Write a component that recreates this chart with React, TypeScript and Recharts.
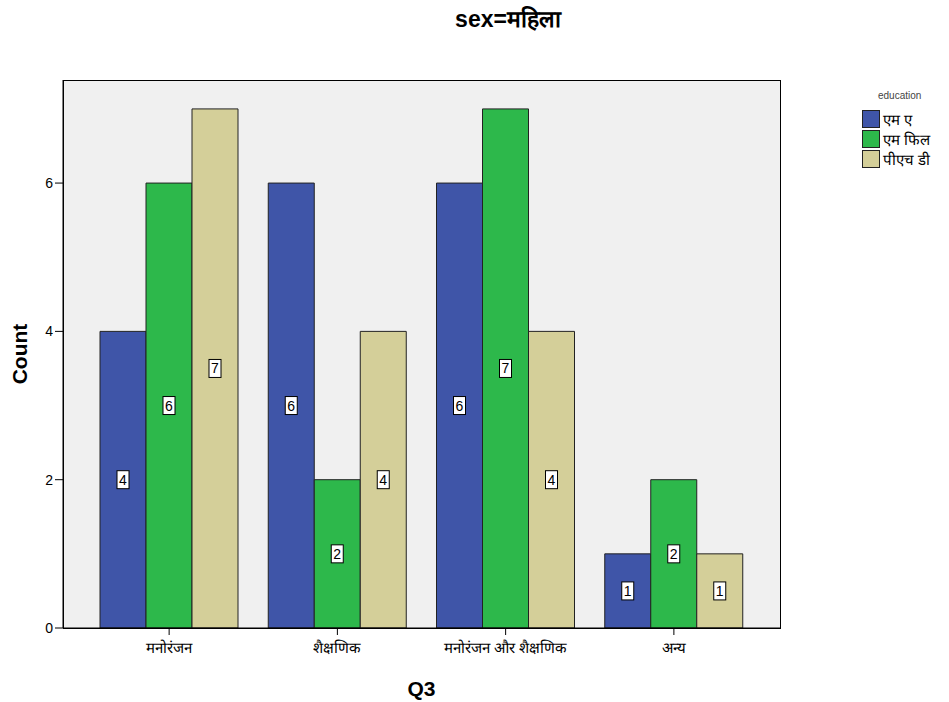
import React from 'react';
import { BarChart, Bar, XAxis, YAxis, CartesianGrid, LabelList } from 'recharts';

const categories = ['मनोरंजन', 'शैक्षणिक', 'मनोरंजन और शैक्षणिक', 'अन्य'];
const seriesNames = ['एम ए', 'एम फिल', 'पीएच डी'];
const maValues = [4, 6, 6, 1];
const mphilValues = [6, 2, 7, 2];
const phdValues = [7, 4, 4, 1];
const yTicks = [0, 2, 4, 6];

const colors = ['#3f55a8', '#2db84b', '#d4cf99'];
const FONT = '"Liberation Sans", Arial, sans-serif';

const data = categories.map((name, i) => ({
  name,
  ma: maValues[i],
  mphil: mphilValues[i],
  phd: phdValues[i],
}));

const keys = ['ma', 'mphil', 'phd'];

const BoxLabel = (props: any) => {
  const { x, y, width, height, value } = props;
  const cx = x + width / 2;
  const cy = y + height / 2;
  return (
    <g>
      <rect x={cx - 6} y={cy - 9} width={12} height={18} fill="#fff" stroke="#000" strokeWidth={1} />
      <text x={cx} y={cy + 5} textAnchor="middle" fontSize={14} fontFamily={FONT} fill="#000">{value}</text>
    </g>
  );
};

export default function App() {
  React.useEffect(() => {
    document.body.style.margin = '0';
  }, []);

  return (
    <div style={{ position: 'relative', width: 949, height: 702, background: '#fff', fontFamily: FONT }}>
      <div style={{ position: 'absolute', left: 0, width: 1016, top: 2, textAlign: 'center', fontSize: 23, fontWeight: 'bold' }}>
        sex=महिला
      </div>
      <BarChart
        width={949}
        height={702}
        data={data}
        margin={{ top: 80, right: 169, left: 0, bottom: 0 }}
        barGap={0}
        barCategoryGap={15}
      >
        <CartesianGrid horizontal={false} vertical={false} fill="#f0f0f0" />
        <XAxis
          dataKey="name"
          height={74}
          padding={{ left: 22, right: 22 }}
          axisLine={{ stroke: '#000' }}
          tickLine={{ stroke: '#000' }}
          tickSize={7}
          tick={{ fontSize: 15, fill: '#000', fontFamily: FONT, dy: 5 }}
          interval={0}
          label={{ value: 'Q3', position: 'insideBottom', offset: 6, style: { fontSize: 21, fontWeight: 'bold', fill: '#000', fontFamily: FONT } }}
        />
        <YAxis
          width={63}
          domain={[0, 7.39]}
          ticks={yTicks}
          axisLine={{ stroke: '#000' }}
          tickLine={{ stroke: '#000' }}
          tickSize={8}
          tick={{ fontSize: 14, fill: '#000', fontFamily: FONT }}
          label={{ value: 'Count', angle: -90, position: 'insideLeft', offset: 20, style: { fontSize: 21, fontWeight: 'bold', fill: '#000', fontFamily: FONT, textAnchor: 'middle' } }}
        />
        {keys.map((k, i) => (
          <Bar key={k} dataKey={k} name={seriesNames[i]} fill={colors[i]} stroke="#222" strokeWidth={1} isAnimationActive={false}>
            <LabelList dataKey={k} content={BoxLabel} />
          </Bar>
        ))}
      </BarChart>
      {/* plot frame */}
      <div style={{ position: 'absolute', left: 63, top: 80, width: 716, height: 547, border: '1px solid #000', pointerEvents: 'none' }} />
      <div style={{ position: 'absolute', left: 862, top: 90 }}>
        <div style={{ fontSize: 10, color: '#444', marginLeft: 16, marginBottom: 8 }}>education</div>
        {seriesNames.map((s, i) => (
          <div key={s} style={{ display: 'flex', alignItems: 'center', height: 20 }}>
            <div style={{ width: 16, height: 16, background: colors[i], border: '1px solid #222', marginRight: 3 }} />
            <span style={{ fontSize: 15, color: '#000' }}>{s}</span>
          </div>
        ))}
      </div>
    </div>
  );
}
